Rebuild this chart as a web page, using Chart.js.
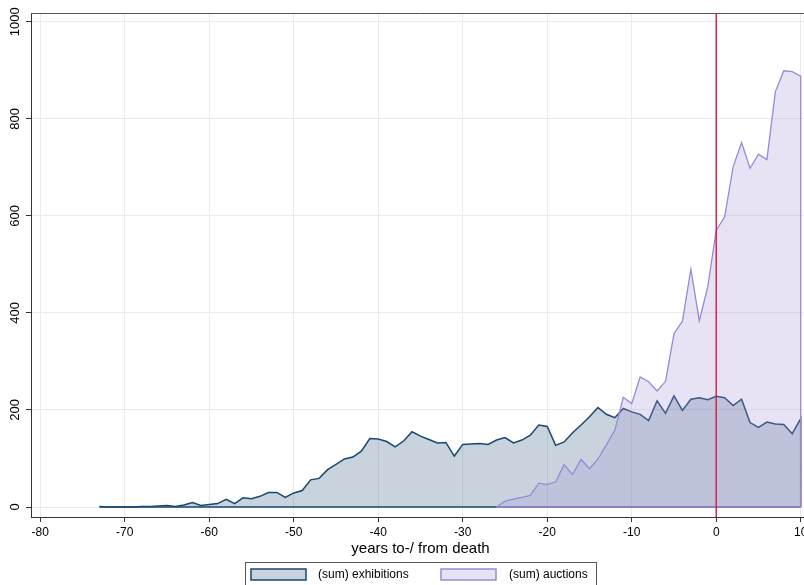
<!DOCTYPE html>
<html lang="en">
<head>
    <meta charset="UTF-8">
    <title>Exhibitions and auctions around death</title>
    <script src="https://cdn.jsdelivr.net/npm/chart.js"></script>
    <style>
        body {
            margin: 0;
            overflow: hidden;
            background: #fff;
        }
        #wrap {
            width: 830px;
            height: 600px;
        }
    </style>
</head>
<body>
    <div id="wrap"><canvas id="chart" width="830" height="600"></canvas></div>
    <script>
        // years to / from death
        const exYears = [
            -73, -72, -71, -70, -69, -68, -67, -66, -65, -64,
            -63, -62, -61, -60, -59, -58, -57, -56, -55, -54,
            -53, -52, -51, -50, -49, -48, -47, -46, -45, -44,
            -43, -42, -41, -40, -39, -38, -37, -36, -35, -34,
            -33, -32, -31, -30, -29, -28, -27, -26, -25, -24,
            -23, -22, -21, -20, -19, -18, -17, -16, -15, -14,
            -13, -12, -11, -10, -9, -8, -7, -6, -5, -4,
            -3, -2, -1, 0, 1, 2, 3, 4, 5, 6,
            7, 8, 9, 10
        ];
        const exhibitions = [
            1, 0, 0, 0, 0, 1, 1, 2, 3, 1,
            4, 9, 3, 5, 7, 16, 7, 19, 17, 22,
            30, 30, 20, 29, 34, 56, 59, 77, 88, 99,
            103, 115, 141, 140, 135, 124, 136, 155, 146, 139,
            132, 133, 105, 129, 130, 131, 129, 138, 143, 132,
            138, 148, 169, 166, 127, 134, 153, 169, 186, 205,
            191, 184, 203, 196, 191, 178, 219, 193, 229, 199,
            222, 225, 221, 228, 225, 209, 222, 174, 164, 175,
            171, 170, 151, 182
        ];
        const auYears = [
            -26, -25, -24, -23, -22, -21, -20, -19, -18, -17,
            -16, -15, -14, -13, -12, -11, -10, -9, -8, -7,
            -6, -5, -4, -3, -2, -1, 0, 1, 2, 3,
            4, 5, 6, 7, 8, 9, 10
        ];
        const auctions = [
            0, 12, 16, 20, 24, 49, 46, 52, 87, 67,
            98, 79, 99, 128, 158, 226, 213, 268, 258, 239,
            259, 357, 383, 490, 384, 454, 570, 598, 701, 751,
            698, 727, 716, 856, 899, 897, 888
        ];
        const xTicks = [-80, -70, -60, -50, -40, -30, -20, -10, 0, 10];
        const yTicks = [0, 200, 400, 600, 800, 1000];
        const deathYear = 0;

        const FONT = '"Liberation Sans", Arial, Helvetica, sans-serif';
        const exLine = 'rgb(26,71,111)';
        const exFill = 'rgba(26,71,111,0.24)';
        const auLine = 'rgb(150,138,214)';
        const auFill = 'rgba(162,144,212,0.25)';

        // area outline closes down to zero at the last year
        function areaPoints(xs, ys) {
            const pts = xs.map((x, i) => ({ x: x, y: ys[i] }));
            pts.push({ x: xs[xs.length - 1], y: 0 });
            return pts;
        }
        function baseLine(xs) {
            return [{ x: xs[0], y: 0 }, { x: xs[xs.length - 1], y: 0 }];
        }

        const framePlugin = {
            id: 'frame',
            afterDatasetsDraw(chart) {
                const { ctx, chartArea: a, scales } = chart;
                const x0 = scales.x.getPixelForValue(deathYear);
                ctx.save();
                ctx.strokeStyle = 'rgb(214,24,66)';
                ctx.lineWidth = 1.4;
                ctx.beginPath();
                ctx.moveTo(x0, a.top);
                ctx.lineTo(x0, a.bottom);
                ctx.stroke();
                ctx.strokeStyle = '#555';
                ctx.lineWidth = 1;
                ctx.beginPath();
                ctx.moveTo(a.left, a.top + 0.5);
                ctx.lineTo(a.right, a.top + 0.5);
                ctx.lineTo(a.right, a.bottom);
                ctx.stroke();
                ctx.restore();
            },
            afterDraw(chart) {
                const { ctx, scales } = chart;
                ctx.save();
                // rotated y tick labels
                ctx.fillStyle = '#000';
                ctx.font = '13px ' + FONT;
                ctx.textAlign = 'center';
                ctx.textBaseline = 'middle';
                yTicks.forEach(v => {
                    const y = scales.y.getPixelForValue(v);
                    ctx.save();
                    ctx.translate(15, y);
                    ctx.rotate(-Math.PI / 2);
                    ctx.fillText(String(v), 0, 0);
                    ctx.restore();
                });
                // legend
                ctx.font = '12px ' + FONT;
                ctx.strokeStyle = '#555';
                ctx.lineWidth = 1;
                ctx.strokeRect(245.5, 562.5, 351, 40);
                const items = chart.data.datasets.filter(d => d.label);
                const slots = [{ sx: 251, tx: 318 }, { sx: 441, tx: 509 }];
                items.sort((a, b) => b.order - a.order).forEach((d, i) => {
                    const s = slots[i];
                    ctx.fillStyle = '#fff';
                    ctx.fillRect(s.sx, 569, 55, 11);
                    ctx.fillStyle = d.backgroundColor;
                    ctx.fillRect(s.sx, 569, 55, 11);
                    ctx.strokeStyle = d.borderColor;
                    ctx.lineWidth = 1.5;
                    ctx.strokeRect(s.sx, 569, 55, 11);
                    ctx.fillStyle = '#000';
                    ctx.textAlign = 'left';
                    ctx.fillText(d.label, s.tx, 575);
                });
                ctx.restore();
            }
        };

        const ctx = document.getElementById('chart').getContext('2d');
        new Chart(ctx, {
            type: 'line',
            data: {
                datasets: [
                    {
                        label: '(sum) exhibitions',
                        data: areaPoints(exYears, exhibitions),
                        borderColor: exLine,
                        backgroundColor: exFill,
                        borderWidth: 1.5,
                        fill: 'origin',
                        pointRadius: 0,
                        tension: 0,
                        order: 4
                    },
                    {
                        data: baseLine(exYears),
                        borderColor: exLine,
                        borderWidth: 1.5,
                        fill: false,
                        pointRadius: 0,
                        order: 3
                    },
                    {
                        label: '(sum) auctions',
                        data: areaPoints(auYears, auctions),
                        borderColor: auLine,
                        backgroundColor: auFill,
                        borderWidth: 1.3,
                        fill: 'origin',
                        pointRadius: 0,
                        tension: 0,
                        order: 2
                    },
                    {
                        data: baseLine(auYears),
                        borderColor: auLine,
                        borderWidth: 1.3,
                        fill: false,
                        pointRadius: 0,
                        order: 1
                    }
                ]
            },
            options: {
                responsive: false,
                animation: false,
                layout: { padding: { top: 13, right: 20, bottom: 40, left: 0 } },
                plugins: {
                    legend: { display: false },
                    tooltip: { enabled: false }
                },
                scales: {
                    x: {
                        type: 'linear',
                        min: -81.1,
                        max: 11.1,
                        afterBuildTicks: s => { s.ticks = xTicks.map(v => ({ value: v })); },
                        afterFit: s => { s.height = 43; },
                        grid: { color: '#ebebeb', tickColor: '#333', tickLength: 5 },
                        border: { color: '#333', width: 1 },
                        ticks: {
                            color: '#000',
                            padding: 3,
                            maxRotation: 0,
                            font: { family: FONT, size: 12 }
                        },
                        title: {
                            display: true,
                            text: 'years to-/ from death',
                            color: '#000',
                            padding: { top: 0, bottom: 2 },
                            font: { family: FONT, size: 15 }
                        }
                    },
                    y: {
                        min: -20.6,
                        max: 1018,
                        afterBuildTicks: s => { s.ticks = yTicks.map(v => ({ value: v })); },
                        afterFit: s => { s.width = 31; },
                        grid: { color: '#ebebeb', tickColor: '#333', tickLength: 5 },
                        border: { color: '#333', width: 1 },
                        ticks: { display: false }
                    }
                }
            },
            plugins: [framePlugin]
        });
    </script>
</body>
</html>
